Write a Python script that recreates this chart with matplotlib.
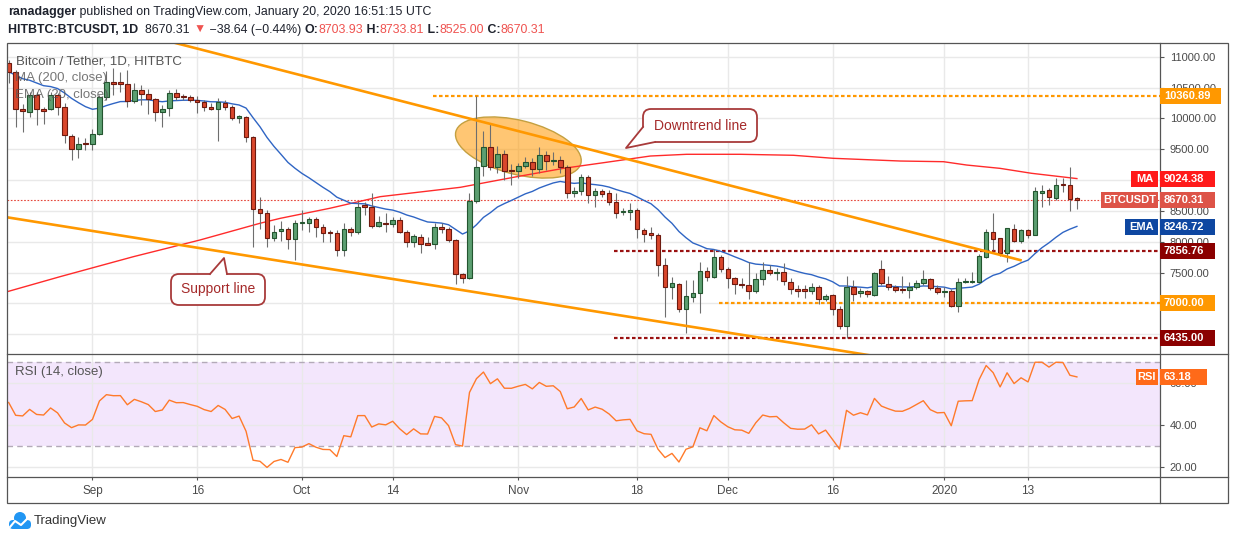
import numpy as np
import pandas as pd
import matplotlib
matplotlib.use('Agg')
import matplotlib.pyplot as plt
from matplotlib.patches import Rectangle, FancyBboxPatch, Polygon, Ellipse, Circle
from matplotlib.lines import Line2D
from matplotlib.transforms import IdentityTransform

plt.rcParams['font.family'] = ['Liberation Sans', 'DejaVu Sans']

# ---- data ----
dates = pd.date_range('2019-08-20', '2020-01-20', freq='D')

opens = [10903, 10760, 10147, 10099, 10379, 10147, 10147, 10379, 10178, 9714,
         9499, 9590, 9580, 9742, 10342, 10595, 10570, 10565, 10287, 10460,
         10390, 10309, 10099, 10163, 10407, 10350, 10345, 10300, 10261, 10190,
         10147, 10255, 10180, 10001, 10020, 9700, 8527, 8460, 8056, 8180,
         8200, 8040, 8300, 8310, 8369, 8234, 8150, 8140, 7867, 8202,
         8165, 8590, 8565, 8256, 8310, 8290, 8360, 8163, 8001, 8080,
         7962, 7959, 8234, 8202, 8029, 7473, 7419, 8666, 9228, 9531,
         9217, 9423, 9160, 9152, 9228, 9293, 9185, 9402, 9305, 9330,
         9207, 8786, 8820, 9045, 8753, 8823, 8796, 8650, 8475, 8490,
         8515, 8191, 8137, 8110, 7624, 7272, 7310, 6916, 7110, 7164,
         7526, 7424, 7748, 7559, 7413, 7305, 7299, 7202, 7391, 7542,
         7495, 7515, 7343, 7235, 7213, 7202, 7267, 7072, 7132, 6905,
         6635, 7272, 7164, 7197, 7132, 7559, 7321, 7272, 7220, 7218,
         7262, 7326, 7391, 7245, 7191, 7202, 6964, 7343, 7350, 7353,
         7748, 8158, 8056, 7823, 8202, 8018, 8191, 8115, 8796, 8839,
         8715, 8920, 8920, 8703.93]
highs = [10950, 10780, 10230, 10420, 10420, 10190, 10433, 10417, 10250, 9750,
         9693, 9677, 9823, 10379, 10773, 10812, 10757, 10784, 10568, 10541,
         10470, 10330, 10217, 10460, 10471, 10390, 10380, 10363, 10298, 10244,
         10325, 10298, 10220, 10060, 10039, 9720, 8731, 8515, 8272, 8342,
         8240, 8353, 8515, 8407, 8407, 8290, 8190, 8190, 8299, 8234,
         8666, 8650, 8786, 8418, 8461, 8407, 8407, 8191, 8126, 8126,
         8083, 8310, 8299, 8234, 8040, 7500, 8785, 10363, 9800, 9920,
         9553, 9488, 9261, 9272, 9380, 9353, 9531, 9466, 9461, 9390,
         9245, 8893, 9099, 9083, 8866, 8850, 8839, 8785, 8542, 8623,
         8542, 8229, 8234, 8148, 7732, 7424, 7337, 7380, 7380, 7678,
         7597, 7877, 7786, 7597, 7424, 7407, 7678, 7489, 7672, 7624,
         7570, 7661, 7407, 7299, 7299, 7326, 7299, 7154, 7154, 6959,
         7445, 7380, 7245, 7218, 7516, 7705, 7445, 7299, 7445, 7353,
         7380, 7543, 7420, 7300, 7272, 7230, 7407, 7418, 7516, 7802,
         8202, 8472, 8060, 8230, 8288, 8202, 8202, 8883, 8920, 8866,
         9028, 9028, 9217, 8733.81]
lows = [10580, 9855, 9780, 10027, 9893, 9910, 10136, 10055, 9596, 9326,
        9352, 9480, 9493, 9735, 10300, 10379, 10420, 10190, 10244, 10217,
        10071, 9963, 9865, 10039, 10298, 10300, 10270, 10082, 10120, 10136,
        9639, 10136, 9974, 9930, 9622, 7920, 8200, 7910, 8010, 8013,
        7888, 7705, 8190, 8164, 8073, 8001, 8001, 7775, 7775, 8099,
        8126, 8434, 8229, 8245, 8163, 8245, 8137, 7920, 7921, 7823,
        7948, 7878, 8148, 8002, 7311, 7337, 7391, 8634, 9066, 9163,
        9109, 9001, 8920, 9028, 9191, 9066, 9109, 9163, 9245, 9109,
        8704, 8731, 8758, 8623, 8569, 8731, 8596, 8380, 8434, 8353,
        8056, 8002, 8040, 7445, 6786, 7072, 6867, 6516, 7029, 6851,
        7370, 7407, 7516, 7245, 7154, 7245, 7078, 7164, 7299, 7462,
        7380, 7299, 7154, 7100, 7083, 7154, 6991, 7045, 6813, 6581,
        6435, 7045, 7110, 7110, 7121, 7299, 7218, 7191, 7175, 7083,
        7240, 7299, 7220, 7150, 7110, 6937, 6867, 7326, 7326, 7337,
        7732, 7867, 7769, 7678, 8002, 7975, 8056, 8104, 8569, 8596,
        8677, 8812, 8504, 8525]
closes = [10760, 10147, 10115, 10379, 10147, 10120, 10379, 10178, 9730, 9499,
          9585, 9580, 9742, 10352, 10595, 10562, 10565, 10287, 10460, 10390,
          10309, 10108, 10147, 10407, 10342, 10345, 10300, 10261, 10190, 10150,
          10261, 10185, 10001, 10040, 9693, 8527, 8460, 8056, 8164, 8200,
          8040, 8300, 8310, 8369, 8234, 8147, 8140, 7867, 8202, 8165,
          8569, 8570, 8256, 8316, 8290, 8353, 8163, 8001, 8093, 7959,
          7955, 8234, 8202, 8029, 7473, 7419, 8666, 9217, 9531, 9207,
          9423, 9152, 9150, 9228, 9293, 9185, 9402, 9314, 9330, 9207,
          8786, 8830, 9045, 8753, 8823, 8769, 8650, 8472, 8490, 8499,
          8202, 8121, 8104, 7624, 7262, 7327, 6905, 7121, 7164, 7521,
          7424, 7748, 7559, 7407, 7310, 7298, 7202, 7391, 7542, 7499,
          7505, 7364, 7229, 7208, 7210, 7267, 7072, 7121, 6905, 6635,
          7272, 7153, 7202, 7153, 7488, 7326, 7267, 7218, 7215, 7262,
          7326, 7391, 7245, 7191, 7196, 6964, 7343, 7350, 7353, 7769,
          8158, 8050, 7813, 8218, 8018, 8191, 8115, 8818, 8818, 8731,
          8920, 8915, 8699, 8670.31]

# MA(200) read at points along the red line (day offset, price)
ma200_day = [-0.24, 7.35, 17.85, 27.4, 36.0, 38.9, 46.0, 53.2, 64.7, 72.3, 79.5, 85.4,
             91.9, 97.1, 104.8, 112.4, 118.1, 127.7, 133.9, 137.2, 142.0, 146.5, 153.0]
ma200_val = [7190, 7434, 7758, 8029, 8300, 8380, 8543, 8731, 8883, 9045, 9191, 9285,
             9390, 9418, 9418, 9402, 9353, 9309, 9298, 9244, 9190, 9110, 9024.38]
ema_seed = 10757
rsi_seed_gain, rsi_seed_loss = 176, 170

tick_dates = ['2019-09-01', '2019-09-16', '2019-10-01', '2019-10-14', '2019-11-01',
              '2019-11-18', '2019-12-01', '2019-12-16', '2020-01-01', '2020-01-13']
tick_labels = ['Sep', '16', 'Oct', '14', 'Nov', '18', 'Dec', '16', '2020', '13']
price_ticks = [6500, 7000, 7500, 8000, 8500, 9000, 9500, 10000, 10500, 11000]
hidden_price_ticks = [6500, 7000, 9000]  # covered by the value tags in the reference

levels = [10360.89, 7856.76, 7000.00, 6435.00]
level_from = [60.8, 86.7, 101.8, 86.7]
level_colors = ['#ff9800', '#9a1111', '#ff9800', '#9a1111']

downtrend_day, downtrend_price = [10, 145.1], [11626, 7697]
support_day, support_price = [-0.24, 125], [8397, 6130]
ellipse_day, ellipse_price = 73.0, 9528

last_price = 8670.31
ma_last, ema_last, rsi_last = 9024.38, 8246.72, 63.18

# ---- indicators ----
ema = [ema_seed]
for cl in closes[1:]:
    ema.append(ema[-1] + 2 / 21 * (cl - ema[-1]))
ag, al = rsi_seed_gain, rsi_seed_loss
rsi = [100 - 100 / (1 + ag / al)]
for d in np.diff(closes):
    ag = (ag * 13 + max(d, 0)) / 14
    al = (al * 13 + max(-d, 0)) / 14
    rsi.append(100 - 100 / (1 + ag / al))

# ---- figure ----
W, H = 1234, 540
fig = plt.figure(figsize=(W / 100, H / 100), dpi=100)
IDT = IdentityTransform()


def P(x, y):
    return (x, H - y)


L, R, TOP, MID, BOT, FRAME_B, FRAME_R = 7, 1160, 43, 354, 477, 503, 1228
ax = fig.add_axes([L / W, 1 - MID / H, (R - L) / W, (MID - TOP) / H])
ax2 = fig.add_axes([L / W, 1 - BOT / H, (R - L) / W, (BOT - MID) / H])

x = np.arange(len(dates))
xt = [(pd.Timestamp(t) - dates[0]).days for t in tick_dates]
grid_c = '#e9e9e9'
for a in (ax, ax2):
    a.set_xlim(-0.24, 164.9)
    for s in a.spines.values():
        s.set_visible(False)
    a.set_xticks(xt)
    a.grid(True, color=grid_c, lw=1, zorder=0)
    a.set_axisbelow(True)
    a.yaxis.tick_right()
    a.tick_params(axis='y', length=3, color='#555', labelcolor='#4a4a4a', labelsize=8, pad=4)
ax.set_ylim(6181, 11222)
ax.set_yticks(price_ticks)
ax.set_yticklabels(['' if v in hidden_price_ticks else '%.2f' % v for v in price_ticks])
ax.tick_params(axis='x', length=0, labelbottom=False)

ax2.set_ylim(15.4, 73.95)
ax2.set_yticks([20, 40, 60])
ax2.set_yticklabels(['20.00', '40.00', '60.00'])
ax2.set_xticklabels(tick_labels)
ax2.tick_params(axis='x', length=2, color='#555', labelcolor='#4a4a4a', labelsize=8.5, pad=4)

# levels
for lv, st, col in zip(levels, level_from, level_colors):
    ax.plot([st, 170], [lv, lv], color=col, lw=1.6, ls=(0, (1.6, 1.1)), zorder=2)
ax.axhline(last_price, color='#e5473b', lw=0.8, ls=(0, (1.5, 1.5)), zorder=2)

# ellipse highlight
cx, cy = ax.transData.transform((ellipse_day, ellipse_price))
ax.add_patch(Ellipse((cx, cy), 129, 54, angle=-14.2, transform=IDT, fc='#ff9800',
                     alpha=0.55, ec='none', zorder=1.5))
ax.add_patch(Ellipse((cx, cy), 129, 54, angle=-14.2, transform=IDT, fc='none',
                     ec='#c4a040', lw=1, zorder=1.6))

# MA / EMA
ax.plot(ma200_day, ma200_val, color='#ff2b2b', lw=1.0, zorder=2.5)
ax.plot(x, ema, color='#2f65c4', lw=1.0, zorder=2.5)

# candles
o, h, l, c = map(np.array, (opens, highs, lows, closes))
up = c >= o
ax.vlines(x, l, h, color='#6e6e6e', lw=0.8, zorder=3)
lo = np.minimum(o, c)
bh = np.maximum(np.abs(c - o), 18)
ax.bar(x[up], bh[up], bottom=lo[up], width=0.66, color='#5c9f71', edgecolor='#23552f', lw=0.8, zorder=4)
ax.bar(x[~up], bh[~up], bottom=lo[~up], width=0.66, color='#d9472c', edgecolor='#6d1a0f', lw=0.8, zorder=4)

# trend lines
ax.plot(downtrend_day, downtrend_price, color='#ff9800', lw=1.9, zorder=5, solid_capstyle='butt')
ax.plot(support_day, support_price, color='#ff9800', lw=1.9, zorder=5, solid_capstyle='butt')

# RSI panel
ax2.axhspan(30, 70, color='#f3e6fc', zorder=0.5, lw=0)
for lv in (30, 70):
    ax2.axhline(lv, color='#b3aab8', lw=1, ls=(0, (4, 3)), zorder=1)
ax2.plot(x, rsi, color='#ff7a2a', lw=1.0, zorder=3)

# frame
fr = dict(color='#555555', lw=0.9)
fig.add_artist(Rectangle(P(L, FRAME_B), FRAME_R - L, FRAME_B - TOP, transform=IDT, fill=False, ec='#555555', lw=0.9))
fig.add_artist(Line2D([R, R], [H - TOP, H - FRAME_B], transform=IDT, **fr))
for yy in (MID, BOT):
    fig.add_artist(Line2D([L, FRAME_R], [H - yy, H - yy], transform=IDT, **fr))


# right-axis value tags
def tag(yd, text, col, a=ax, name=None, x1=1215, name_x0=None):
    ypx = a.transData.transform((0, yd))[1]
    fig.add_artist(Rectangle((R, ypx - 8), x1 - R, 16, transform=IDT, fc=col, ec='none', zorder=5))
    fig.text(R + 4, ypx, text, transform=IDT, color='white', fontsize=8, fontweight='bold',
             va='center', ha='left', zorder=6)
    if name:
        fig.add_artist(Rectangle((name_x0, ypx - 8), R - 2 - name_x0, 16, transform=IDT, fc=col, ec='none', zorder=5))
        fig.text((name_x0 + R - 2) / 2, ypx, name, transform=IDT, color='white', fontsize=8,
                 fontweight='bold', va='center', ha='center', zorder=6)


tag(levels[0], '%.2f' % levels[0], '#ff9800', x1=1221)
tag(ma_last, '%.2f' % ma_last, '#ff1a1a', name='MA', name_x0=1131)
tag(last_price, '%.2f' % last_price, '#dd5347', name='BTCUSDT', name_x0=1101)
tag(ema_last, '%.2f' % ema_last, '#0e47a1', name='EMA', name_x0=1125)
tag(levels[1], '%.2f' % levels[1], '#8b0000')
tag(levels[2], '%.2f' % levels[2], '#ff9800')
tag(levels[3], '%.2f' % levels[3], '#8b0000')
tag(rsi_last, '%.2f' % rsi_last, '#ff6a19', a=ax2, name='RSI', name_x0=1136, x1=1207)

# legends inside panels
leg = dict(transform=IDT, color='#555555', fontsize=9.5, va='center', ha='left')
fig.text(*P(16, 61), 'Bitcoin / Tether, 1D, HITBTC', **leg)
fig.text(*P(15, 78), 'MA (200, close)', alpha=0.8, **leg)
fig.text(*P(15, 95), 'EMA (20, close)', alpha=0.8, **leg)
fig.text(*P(15, 372), 'RSI (14, close)', **leg)


# callouts
def callout(x0, y0, x1, y1, tail, text):
    ec = '#a83a3a'
    fig.add_artist(FancyBboxPatch(P(x0, y1), x1 - x0, y1 - y0, boxstyle='round,pad=0,rounding_size=8',
                                  transform=IDT, fc='white', ec=ec, lw=1.3, zorder=7))
    a_, tip, b_, inner = [P(*p) for p in tail]
    fig.add_artist(Polygon([a_, tip, b_, inner], closed=True, transform=IDT, fc='white', ec='none', zorder=8))
    fig.add_artist(Line2D([a_[0], tip[0], b_[0]], [a_[1], tip[1], b_[1]], transform=IDT, color=ec, lw=1.3, zorder=9))
    fig.text((x0 + x1) / 2, H - (y0 + y1) / 2, text, transform=IDT, color='#a52a2a', fontsize=10,
             ha='center', va='center', zorder=10)


callout(643, 109, 757, 142, [(643, 127), (626, 148), (655, 142), (651, 135)], 'Downtrend line')
callout(171, 274, 265, 305, [(210, 274), (224, 258), (227, 274), (218, 281)], 'Support line')

# header
fig.canvas.draw()
rend = fig.canvas.get_renderer()


def run(xs, y, parts, size=8.9):
    for s, col, wt in parts:
        t = fig.text(xs, H - y, s, transform=IDT, color=col, fontsize=size, fontweight=wt, va='center', ha='left')
        xs += t.get_window_extent(rend).width


dark, red = '#1e222d', '#ef5350'
run(8, 12, [('ranadagger', dark, 'bold'),
            (' published on TradingView.com, January 20, 2020 16:51:15 UTC', dark, 'normal')])
run(8, 30, [('HITBTC:BTCUSDT, 1D', dark, 'bold'), ('  8670.31 ', dark, 'normal'), ('\u25bc', red, 'normal'),
            (' \u221238.64 (\u22120.44%) ', dark, 'normal'), ('O:', dark, 'bold'), ('8703.93', red, 'normal'),
            (' H:', dark, 'bold'), ('8733.81', red, 'normal'), (' L:', dark, 'bold'), ('8525.00', red, 'normal'),
            (' C:', dark, 'bold'), ('8670.31', red, 'normal')])

# TradingView logo
fig.add_artist(Circle(P(20, 518), 6, transform=IDT, fc='#2196f3', ec='none'))
fig.add_artist(FancyBboxPatch(P(9, 529), 22, 9, boxstyle='round,pad=0,rounding_size=4', transform=IDT,
                              fc='#2196f3', ec='none'))
fig.add_artist(Line2D([10, 15, 21, 28], [H - 527, H - 521, H - 525, H - 518], transform=IDT, color='white', lw=1.5))
fig.text(34, H - 521, 'TradingView', transform=IDT, color='#333333', fontsize=9.5, va='center', ha='left')

fig.savefig('out.png', dpi=100, facecolor='white')
